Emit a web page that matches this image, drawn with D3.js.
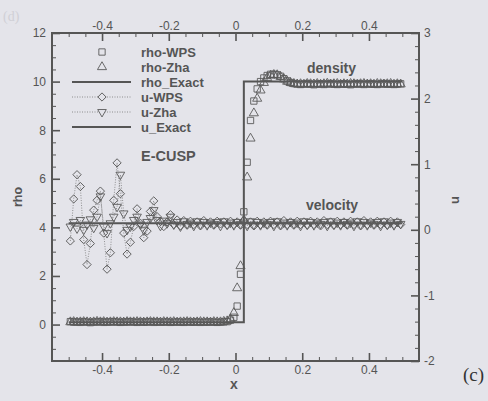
<!DOCTYPE html>
<html lang="en">
<head>
<meta charset="UTF-8">
<title>E-CUSP density / velocity</title>
<style>
    body { margin: 0; background: #e4e4ea; }
    svg { display: block; font-family: "Liberation Sans", Arial, sans-serif; }
    .tick text { fill: #555; font-size: 12px; }
    .tick line { stroke: #555; }
    .domain { display: none; }
</style>
</head>
<body>
<svg id="chart" width="488" height="401"></svg>

<script src="https://d3js.org/d3.v7.min.js"></script>
<script>
// cell centres of the 100-cell mesh on [-0.5, 0.5]
const xCells = d3.range(100).map(i => -0.495 + i * 0.01);

// exact solution
const rhoExactX = [-0.5, 0.025, 0.025, 0.5];
const rhoExactY = [0.1, 0.1, 10, 10];
const uExactX = [-0.5, 0.5];
const uExactY = [0.1, 0.1];

// density, WPS scheme (squares)
const rhoWPS = [
    0.12, 0.10, 0.11, 0.09, 0.12, 0.10, 0.08, 0.11, 0.10, 0.12,
    0.09, 0.11, 0.10, 0.12, 0.10, 0.09, 0.11, 0.10, 0.12, 0.10,
    0.09, 0.11, 0.10, 0.10, 0.12, 0.09, 0.11, 0.10, 0.10, 0.11,
    0.09, 0.10, 0.11, 0.10, 0.09, 0.11, 0.10, 0.10, 0.11, 0.09,
    0.10, 0.10, 0.11, 0.10, 0.09, 0.10, 0.11, 0.12, 0.18, 0.30,
    0.76, 2.07, 4.64, 6.68, 8.40, 9.20, 9.70, 10.00, 10.15, 10.25,
    10.30, 10.30, 10.28, 10.22, 10.12, 10.03, 9.96, 9.92, 9.90, 9.88,
    9.90, 9.92, 9.89, 9.87, 9.90, 9.91, 9.88, 9.90, 9.92, 9.89,
    9.88, 9.90, 9.91, 9.89, 9.87, 9.90, 9.92, 9.90, 9.88, 9.90,
    9.91, 9.89, 9.88, 9.90, 9.92, 9.89, 9.90, 9.88, 9.90, 9.91
];

// density, Zha scheme (triangles)
const rhoZha = [
    0.10, 0.11, 0.09, 0.10, 0.11, 0.10, 0.09, 0.10, 0.12, 0.10,
    0.11, 0.09, 0.10, 0.11, 0.10, 0.10, 0.09, 0.11, 0.10, 0.10,
    0.11, 0.10, 0.09, 0.10, 0.11, 0.10, 0.10, 0.09, 0.11, 0.10,
    0.10, 0.11, 0.09, 0.10, 0.10, 0.11, 0.10, 0.09, 0.10, 0.11,
    0.10, 0.10, 0.09, 0.11, 0.10, 0.10, 0.12, 0.14, 0.22, 0.48,
    1.50, 2.41, 4.30, 6.06, 7.66, 8.70, 9.30, 9.64, 9.95, 10.15,
    10.25, 10.28, 10.27, 10.20, 10.10, 10.00, 9.95, 9.91, 9.89, 9.90,
    9.88, 9.91, 9.90, 9.89, 9.91, 9.88, 9.90, 9.92, 9.89, 9.90,
    9.91, 9.88, 9.90, 9.89, 9.91, 9.90, 9.88, 9.90, 9.91, 9.89,
    9.90, 9.88, 9.91, 9.90, 9.89, 9.90, 9.91, 9.88, 9.90, 9.89
];

// velocity, WPS scheme (diamonds)
const uWPS = [
    -0.17, 0.47, 0.84, 0.66, -0.15, -0.53, -0.21, 0.30, 0.45, 0.59,
    -0.05, -0.60, -0.35, 0.45, 1.02, 0.55, -0.05, -0.37, -0.19, 0.05,
    0.32, 0.10, -0.12, -0.02, 0.28, 0.44, 0.20, 0.13, 0.05, 0.12,
    0.23, 0.08, 0.15, 0.06, 0.14, 0.07, 0.13, 0.08, 0.12, 0.06,
    0.14, 0.08, 0.12, 0.07, 0.13, 0.09, 0.12, 0.07, 0.13, 0.08,
    0.12, 0.07, 0.14, 0.08, 0.12, 0.06, 0.13, 0.08, 0.12, 0.07,
    0.13, 0.08, 0.12, 0.06, 0.14, 0.08, 0.12, 0.07, 0.13, 0.08,
    0.12, 0.07, 0.13, 0.08, 0.12, 0.06, 0.14, 0.08, 0.12, 0.07,
    0.13, 0.08, 0.12, 0.07, 0.13, 0.08, 0.12, 0.06, 0.14, 0.08,
    0.12, 0.07, 0.13, 0.08, 0.12, 0.07, 0.13, 0.08, 0.12, 0.08
];

// velocity, Zha scheme (inverted triangles)
const uZha = [
    0.05, 0.12, 0.02, 0.15, 0.00, 0.08, 0.16, 0.03, 0.20, 0.51,
    0.05, -0.05, 0.10, 0.20, 0.35, 0.84, 0.25, 0.00, 0.05, 0.15,
    0.20, 0.08, 0.00, 0.12, 0.18, 0.30, 0.15, 0.06, 0.14, 0.10,
    0.20, 0.08, 0.12, 0.05, 0.13, 0.09, 0.11, 0.06, 0.13, 0.08,
    0.12, 0.07, 0.11, 0.09, 0.12, 0.06, 0.13, 0.08, 0.11, 0.07,
    0.12, 0.09, 0.11, 0.06, 0.13, 0.08, 0.12, 0.07, 0.11, 0.09,
    0.12, 0.06, 0.13, 0.08, 0.11, 0.07, 0.12, 0.09, 0.11, 0.06,
    0.13, 0.08, 0.12, 0.07, 0.11, 0.09, 0.12, 0.06, 0.13, 0.08,
    0.11, 0.07, 0.12, 0.09, 0.11, 0.06, 0.13, 0.08, 0.12, 0.07,
    0.11, 0.09, 0.12, 0.06, 0.13, 0.08, 0.11, 0.07, 0.12, 0.09
];

// ticks
const xMajor = [-0.4, -0.2, 0, 0.2, 0.4];
const xMinor = [-0.5, -0.45, -0.35, -0.3, -0.25, -0.15, -0.1, -0.05, 0.05, 0.1, 0.15, 0.25, 0.3, 0.35, 0.45, 0.5];
const rhoMajor = [0, 2, 4, 6, 8, 10, 12];
const rhoMinor = [-1.5, -1, -0.5, 0.5, 1, 1.5, 2.5, 3, 3.5, 4.5, 5, 5.5, 6.5, 7, 7.5, 8.5, 9, 9.5, 10.5, 11, 11.5];
const uMajor = [-2, -1, 0, 1, 2, 3];
const uMinor = [-1.8, -1.6, -1.4, -1.2, -0.8, -0.6, -0.4, -0.2, 0.2, 0.4, 0.6, 0.8, 1.2, 1.4, 1.6, 1.8, 2.2, 2.4, 2.6, 2.8];

const ink = "#555";
const pL = 52, pR = 419, pT = 33, pB = 361;

const svg = d3.select("#chart");
svg.append("rect").attr("width", 488).attr("height", 401).attr("fill", "#e4e4ea");

const x = d3.scaleLinear().domain([-0.55, 0.55]).range([pL, pR]);
const yRho = d3.scaleLinear().domain([-1.5, 12]).range([pB, pT]);
const yU = d3.scaleLinear().domain([-2, 3]).range([pB, pT]);
const fmt = d => String(d);

// axes, ticks pointing inward
function axis(gen, scale, major, minor, tr, pad) {
    const g = svg.append("g").attr("transform", tr);
    g.call(gen(scale).tickValues(minor).tickSize(-4).tickFormat(""));
    g.selectAll(".tick line").attr("stroke-width", 1);
    const g2 = svg.append("g").attr("transform", tr);
    g2.call(gen(scale).tickValues(major).tickSize(-8).tickPadding(pad).tickFormat(fmt));
    g2.selectAll(".tick line").attr("stroke-width", 1.6);
    return g2;
}
axis(d3.axisBottom, x, xMajor, xMinor, `translate(0,${pB})`, 4);
axis(d3.axisTop, x, xMajor, xMinor, `translate(0,${pT})`, 3);
axis(d3.axisLeft, yRho, rhoMajor, rhoMinor, `translate(${pL},0)`, 6);
axis(d3.axisRight, yU, uMajor, uMinor, `translate(${pR},0)`, 5);

svg.append("rect")
    .attr("x", pL).attr("y", pT)
    .attr("width", pR - pL).attr("height", pB - pT)
    .attr("fill", "none").attr("stroke", ink).attr("stroke-width", 2);

// exact solutions
const line = d3.line();
svg.append("path")
    .attr("d", line(rhoExactX.map((v, i) => [x(v), yRho(rhoExactY[i])])))
    .attr("fill", "none").attr("stroke", ink).attr("stroke-width", 2);
svg.append("path")
    .attr("d", line(uExactX.map((v, i) => [x(v), yU(uExactY[i])])))
    .attr("fill", "none").attr("stroke", ink).attr("stroke-width", 2);

// dotted connecting lines for velocity
[uWPS, uZha].forEach(arr => {
    svg.append("path")
        .attr("d", line(xCells.map((v, i) => [x(v), yU(arr[i])])))
        .attr("fill", "none").attr("stroke", "#777").attr("stroke-width", 0.8)
        .attr("stroke-dasharray", "1,1.5");
});

function markers(arr, scale, type, size, rot) {
    svg.append("g").selectAll("path")
        .data(arr)
        .join("path")
        .attr("d", d3.symbol().type(type).size(size))
        .attr("transform", (d, i) => `translate(${x(xCells[i])},${scale(d)}) rotate(${rot})`)
        .attr("fill", "none").attr("stroke", "#5a5a5a").attr("stroke-width", 0.9);
}
markers(rhoWPS, yRho, d3.symbolSquare, 40, 0);
markers(rhoZha, yRho, d3.symbolTriangle, 36, 0);
markers(uWPS, yU, d3.symbolSquare, 34, 45);      // diamond = square turned 45°
markers(uZha, yU, d3.symbolTriangle, 32, 180);

// legend
const legend = [
    { name: "rho-WPS", sym: d3.symbolSquare, size: 40, rot: 0, line: null },
    { name: "rho-Zha", sym: d3.symbolTriangle, size: 36, rot: 0, line: null },
    { name: "rho_Exact", sym: null, line: "solid" },
    { name: "u-WPS", sym: d3.symbolSquare, size: 34, rot: 45, line: "dot" },
    { name: "u-Zha", sym: d3.symbolTriangle, size: 32, rot: 180, line: "dot" },
    { name: "u_Exact", sym: null, line: "solid" }
];
const lg = svg.append("g");
legend.forEach((d, i) => {
    const cy = 52 + i * 15;
    if (d.line) {
        lg.append("line").attr("x1", 72).attr("x2", 131).attr("y1", cy).attr("y2", cy)
            .attr("stroke", d.line === "solid" ? ink : "#777")
            .attr("stroke-width", d.line === "solid" ? 2 : 0.8)
            .attr("stroke-dasharray", d.line === "solid" ? null : "1,1.5");
    }
    if (d.sym) {
        lg.append("path").attr("d", d3.symbol().type(d.sym).size(d.size))
            .attr("transform", `translate(102,${cy}) rotate(${d.rot})`)
            .attr("fill", "#e4e4ea").attr("stroke", "#5a5a5a").attr("stroke-width", 0.9);
    }
    lg.append("text").attr("x", 141).attr("y", cy + 4.5)
        .attr("fill", ink).attr("font-size", 13).attr("font-weight", "bold")
        .text(d.name);
});

// annotations
const note = (t, xx, yy, fs) => svg.append("text").attr("x", xx).attr("y", yy)
    .attr("fill", ink).attr("font-size", fs).attr("font-weight", "bold").text(t);
note("E-CUSP", 141, 161, 14.5);
note("density", 307, 73, 14);
note("velocity", 306, 210, 14);

// axis titles
svg.append("text").attr("transform", "translate(22,197) rotate(-90)")
    .attr("text-anchor", "middle").attr("fill", ink)
    .attr("font-size", 12.5).attr("font-weight", "bold").text("rho");
svg.append("text").attr("transform", "translate(459,200) rotate(-90)")
    .attr("text-anchor", "middle").attr("fill", ink)
    .attr("font-size", 13).attr("font-weight", "bold").text("u");
svg.append("text").attr("x", 234).attr("y", 389)
    .attr("text-anchor", "middle").attr("fill", ink)
    .attr("font-size", 14).attr("font-weight", "bold").text("x");

// panel labels
svg.append("text").attr("x", 463).attr("y", 381)
    .attr("fill", "#333").attr("font-size", 19)
    .attr("font-family", "'Liberation Serif', 'DejaVu Serif', serif").text("(c)");
svg.append("text").attr("x", 3).attr("y", 21)
    .attr("fill", "#d0d0d6").attr("font-size", 14)
    .attr("font-family", "'Liberation Serif', 'DejaVu Serif', serif").text("(d)");
</script>
</body>
</html>
